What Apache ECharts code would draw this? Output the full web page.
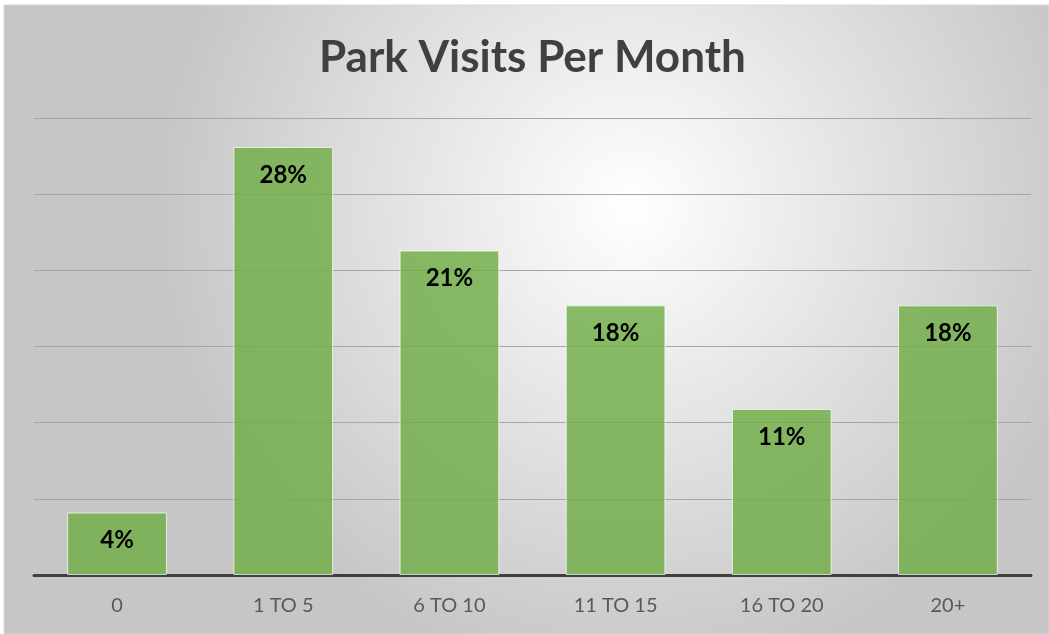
<!DOCTYPE html>
<html>
<head>
<meta charset="utf-8">
<script src="https://cdn.jsdelivr.net/npm/echarts@6/dist/echarts.min.js"></script>
<style>
html,body{margin:0;padding:0;background:#fff;}
#c{width:1049px;height:634px;}
</style>
</head>
<body>
<div id="c"></div>
<script>
const categories = ['0', '1 TO 5', '6 TO 10', '11 TO 15', '16 TO 20', '20+'];
const values = [4.1, 28.1, 21.3, 17.7, 10.9, 17.7];
const titleText = 'Park Visits Per Month';

const chart = echarts.init(document.getElementById('c'));
chart.setOption({
  animation: false,
  graphic: [{
    type: 'rect', z: -10, silent: true,
    shape: {x: 4, y: 5, width: 1045, height: 629},
    style: {
      fill: {type: 'radial', x: 0.6, y: 0.32, r: 0.75,
        colorStops: [{offset: 0, color: '#ffffff'}, {offset: 1, color: '#c6c6c6'}]},
      stroke: '#d8d8d8', lineWidth: 1
    }
  }],
  title: {
    text: titleText, left: 314, top: 31,
    textStyle: {fontFamily: 'Lato', fontWeight: 'bold', fontSize: 44, color: '#404040'}
  },
  grid: {left: 34, right: 18, top: 118, bottom: 59, containLabel: false},
  xAxis: {
    type: 'category', data: categories,
    axisLine: {lineStyle: {color: '#404040', width: 3}},
    axisTick: {show: false},
    axisLabel: {color: '#595959', fontSize: 20, fontFamily: 'Lato', margin: 21}
  },
  yAxis: {
    type: 'value', min: 0, max: 30, interval: 5,
    axisLabel: {show: false},
    axisLine: {show: false}, axisTick: {show: false},
    splitLine: {lineStyle: {color: '#a6a6a6', width: 1}}
  },
  series: [{
    type: 'bar', data: values, barWidth: '60%',
    itemStyle: {color: 'rgba(112,173,71,0.82)', borderColor: 'rgba(255,255,255,0.7)', borderWidth: 1},
    label: {
      show: true, position: 'insideTop', distance: 16,
      formatter: p => Math.round(p.value) + '%',
      color: '#000', fontWeight: 'bold', fontSize: 24, fontFamily: 'Lato'
    }
  }]
});
</script>
</body>
</html>
